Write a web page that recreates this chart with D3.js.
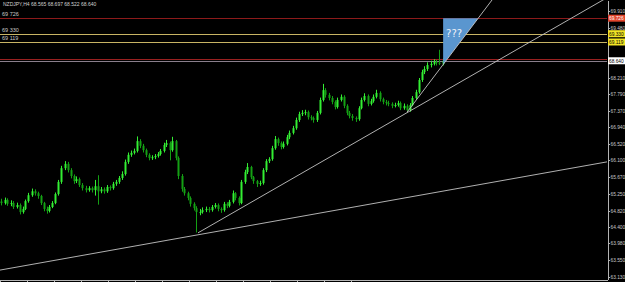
<!DOCTYPE html>
<html>
<head>
<meta charset="utf-8">
<script src="https://cdn.jsdelivr.net/npm/d3@7"></script>
<style>
body { margin: 0; background: #000; }
svg { display: block; }
.axis text { fill: #c8c8c8; font-family: "Liberation Sans", sans-serif; font-size: 4.8px; }
.axis path, .axis line { stroke: #b4b4b4; shape-rendering: crispEdges; }
</style>
</head>
<body>
<script>
const w = 625;
const h = 282;
const plotW = 607;
const plotH = 279;

const title = "NZDJPY,H4  68.565 68.697 68.522 68.640";

// H4 candles (open = previous close)
const firstOpen = 65.05;
const closes = [
	65.01, 65.09, 64.99, 65.01, 64.91, 64.96, 64.78, 64.86, 65.06, 65.21,
	65.31, 65.26, 65.19, 65.01, 64.86, 64.81, 64.91, 65.01, 65.24, 65.55,
	65.90, 66.01, 65.85, 65.70, 65.57, 65.62, 65.47, 65.39, 65.34, 65.39,
	65.34, 65.44, 65.31, 65.36, 65.31, 65.42, 65.39, 65.50, 65.55, 65.65,
	65.75, 66.06, 66.24, 66.29, 66.34, 66.59, 66.47, 66.36, 66.24, 66.16,
	66.18, 66.21, 66.26, 66.34, 66.49, 66.54, 66.36, 66.59, 66.16, 65.70,
	65.37, 65.26, 65.14, 64.99, 64.88, 64.78, 64.78, 64.83, 64.86, 64.83,
	64.91, 64.96, 64.86, 64.83, 64.99, 64.94, 65.04, 65.26, 65.14, 65.01,
	65.55, 65.80, 65.93, 65.67, 65.57, 65.50, 65.52, 65.85, 66.08, 66.13,
	66.41, 66.64, 66.54, 66.44, 66.52, 66.69, 66.80, 66.92, 67.13, 67.28,
	67.31, 67.33, 67.20, 67.18, 67.13, 67.31, 67.64, 67.89, 67.77, 67.69,
	67.59, 67.46, 67.64, 67.72, 67.49, 67.31, 67.23, 67.18, 67.15, 67.43,
	67.64, 67.74, 67.54, 67.61, 67.72, 67.82, 67.66, 67.59, 67.56, 67.54,
	67.49, 67.51, 67.56, 67.43, 67.49, 67.38, 67.51, 67.69, 67.84, 68.15,
	68.35, 68.43, 68.53, 68.56, 68.61, 68.59, 68.565, 68.640
];
const highs = [
	65.12, 65.15, 65.13, 65.08, 65.06, 65.02, 65.00, 64.92, 65.10, 65.27,
	65.38, 65.36, 65.30, 65.22, 65.04, 64.92, 64.96, 65.06, 65.28, 65.60,
	65.96, 66.08, 66.06, 65.90, 65.74, 65.69, 65.66, 65.52, 65.45, 65.44,
	65.43, 65.60, 65.72, 65.42, 65.41, 65.47, 65.46, 65.55, 65.60, 65.70,
	65.82, 66.12, 66.30, 66.35, 66.40, 66.71, 66.64, 66.52, 66.40, 66.28,
	66.23, 66.26, 66.31, 66.39, 66.55, 66.62, 66.58, 66.70, 66.62, 66.20,
	65.75, 65.42, 65.30, 65.18, 65.03, 64.93, 64.86, 64.90, 64.92, 64.91,
	64.96, 65.01, 65.00, 64.90, 65.04, 65.03, 65.09, 65.33, 65.29, 65.18,
	65.60, 65.86, 66.03, 65.96, 65.70, 65.60, 65.58, 65.90, 66.13, 66.18,
	66.47, 66.72, 66.68, 66.58, 66.58, 66.75, 66.86, 66.98, 67.19, 67.34,
	67.38, 67.39, 67.37, 67.25, 67.22, 67.36, 67.70, 68.05, 67.94, 67.82,
	67.74, 67.63, 67.70, 67.78, 67.76, 67.53, 67.36, 67.28, 67.22, 67.48,
	67.70, 67.81, 67.78, 67.67, 67.78, 67.90, 67.86, 67.70, 67.64, 67.62,
	67.58, 67.57, 67.62, 67.60, 67.55, 67.53, 67.56, 67.74, 67.90, 68.20,
	68.41, 68.50, 68.60, 68.64, 68.68, 68.66, 68.92, 68.697
];
const lows = [
	64.95, 64.97, 64.94, 64.93, 64.86, 64.87, 64.72, 64.74, 64.83, 65.02,
	65.17, 65.20, 65.12, 64.96, 64.80, 64.74, 64.77, 64.88, 64.98, 65.20,
	65.50, 65.85, 65.79, 65.64, 65.50, 65.52, 65.42, 65.33, 65.28, 65.30,
	65.28, 65.20, 64.97, 65.26, 65.25, 65.27, 65.33, 65.35, 65.45, 65.50,
	65.60, 65.71, 66.01, 66.19, 66.25, 66.30, 66.41, 66.30, 66.18, 66.10,
	66.11, 66.13, 66.17, 66.22, 66.30, 66.44, 66.10, 66.32, 66.10, 65.62,
	65.30, 65.20, 65.08, 64.92, 64.82, 64.26, 64.70, 64.74, 64.78, 64.77,
	64.79, 64.87, 64.80, 64.76, 64.79, 64.88, 64.90, 65.00, 65.08, 64.95,
	64.98, 65.50, 65.75, 65.62, 65.50, 65.42, 65.45, 65.48, 65.80, 66.03,
	66.09, 66.37, 66.47, 66.38, 66.40, 66.48, 66.64, 66.76, 66.88, 67.08,
	67.23, 67.25, 67.14, 67.12, 67.06, 67.08, 67.27, 67.60, 67.70, 67.63,
	67.53, 67.40, 67.42, 67.60, 67.43, 67.25, 67.17, 67.11, 67.08, 67.11,
	67.40, 67.60, 67.48, 67.50, 67.57, 67.68, 67.60, 67.53, 67.50, 67.48,
	67.43, 67.45, 67.47, 67.38, 67.39, 67.34, 67.34, 67.48, 67.65, 67.80,
	68.10, 68.30, 68.38, 68.47, 68.52, 68.52, 68.53, 68.522
];

// price scale labels and time tick positions (candle index)
const priceTicks = [69.910, 69.480, 68.210, 67.790, 67.370, 66.940, 66.520, 66.100,
	65.670, 65.250, 64.820, 64.400, 63.980, 63.550, 63.130];
const timeTicks = [0, 9, 18, 27, 36, 45, 54, 63, 72, 81, 90, 99, 108, 117];

// horizontal levels
const redLevel = 69.726;
const yellowLevels = [69.330, 69.119];
const levelNames = ["69 726", "69 330", "69 119"];
const askPrice = 68.685;
const bidPrice = 68.640;

// trend lines: [candle index, price] pairs
const trend1 = [[0, 63.30], [202.3, 66.06]];
const trend2 = [[66, 64.25], [136, 67.33]];
const trend3 = [[135.7, 67.33], [164, 70.19]];

var svg = d3.select("body").append("svg")
	.attr("width", w)
	.attr("height", h)
	.style("background", "#000");

var x = d3.scaleLinear().domain([0, plotW / 3]).range([0, plotW]);
var y = d3.scaleLinear().domain([70.19, 63.0727]).range([0, plotH]);

svg.append("clipPath").attr("id", "plot")
	.append("rect").attr("width", plotW).attr("height", plotH);

var plot = svg.append("g").attr("clip-path", "url(#plot)");

// price value at candle index t on a trend line
function along(line, t) {
	var a = line[0], b = line[1];
	return a[1] + (b[1] - a[1]) * (t - a[0]) / (b[0] - a[0]);
}

// horizontal level lines
function hline(p, color) {
	plot.append("line")
		.attr("x1", 0).attr("x2", plotW)
		.attr("y1", Math.round(y(p)) + 0.5).attr("y2", Math.round(y(p)) + 0.5)
		.attr("stroke", color).attr("stroke-width", 1);
}
hline(redLevel, "#8c1a1a");
yellowLevels.forEach(p => hline(p, "#c8b464"));
hline(askPrice, "#9a2020");
hline(bidPrice, "#8a7f8c");

// level names at the left
[redLevel].concat(yellowLevels).forEach((p, i) => {
	svg.append("text")
		.attr("x", 2).attr("y", y(p) - 2)
		.attr("fill", "#c8c8c8")
		.style("font-family", "Liberation Sans, sans-serif")
		.style("font-size", "5.5px")
		.text(levelNames[i]);
});

// candles
var candles = plot.selectAll(".candle")
	.data(closes)
	.enter().append("g")
	.attr("class", "candle");

candles.each(function (c, i) {
	var o = i ? closes[i - 1] : firstOpen;
	var cx = Math.round(x(i + 0.5));
	var col = c >= o ? "#33ee33" : "#14a014";
	var g = d3.select(this);
	g.append("line")
		.attr("x1", cx + 0.5).attr("x2", cx + 0.5)
		.attr("y1", y(highs[i])).attr("y2", y(lows[i]))
		.attr("stroke", col).attr("stroke-width", 1);
	var top = y(Math.max(o, c)), bot = y(Math.min(o, c));
	g.append("rect")
		.attr("x", cx - 0.5).attr("width", 2)
		.attr("y", top).attr("height", Math.max(1, bot - top))
		.attr("fill", col);
});

// blue triangle between the steep line and the red level
var tLeft = 147.7;
var tRight = trend3[0][0] + (redLevel - trend3[0][1]) * (trend3[1][0] - trend3[0][0]) / (trend3[1][1] - trend3[0][1]);
plot.append("path")
	.attr("d", d3.line()([
		[x(tLeft), y(along(trend3, tLeft))],
		[x(tLeft), y(redLevel)],
		[x(tRight), y(redLevel)]
	]) + "Z")
	.attr("fill", "#5a96cf");

plot.append("text")
	.attr("x", x(tLeft) + 3).attr("y", y(redLevel) + 19)
	.attr("fill", "#eef2f8")
	.style("font-family", "DejaVu Sans, sans-serif")
	.style("font-size", "10px")
	.text("???");

// trend lines
[[trend1, 0, 220], [trend2, 66, 220], [trend3, 135.7, 180]].forEach(d => {
	plot.append("line")
		.attr("x1", x(d[1])).attr("y1", y(along(d[0], d[1])))
		.attr("x2", x(d[2])).attr("y2", y(along(d[0], d[2])))
		.attr("stroke", "#c4c4c4").attr("stroke-width", 0.9);
});

// axes
var yAxis = d3.axisRight(y)
	.tickValues(priceTicks)
	.tickFormat(d3.format(".3f"))
	.tickSizeInner(2)
	.tickSizeOuter(0)
	.tickPadding(1);
svg.append("g")
	.attr("class", "axis")
	.attr("transform", "translate(" + (plotW + 0.5) + ",0)")
	.call(yAxis);

var xAxis = d3.axisBottom(x)
	.tickValues(timeTicks)
	.tickFormat("")
	.tickSizeInner(3)
	.tickSizeOuter(0);
svg.append("g")
	.attr("class", "axis")
	.attr("transform", "translate(0," + (plotH + 0.5) + ")")
	.call(xAxis);

// price tags on the axis
function tag(p, bg, fg) {
	var yy = y(p);
	svg.append("rect")
		.attr("x", plotW + 1).attr("y", yy - 3.5)
		.attr("width", 18).attr("height", 7)
		.attr("fill", bg);
	svg.append("text")
		.attr("x", plotW + 2).attr("y", yy + 1.8)
		.attr("fill", fg)
		.style("font-family", "Liberation Sans, sans-serif")
		.style("font-size", "4.8px")
		.text(d3.format(".3f")(p));
}
tag(redLevel, "#e0442c", "#ffffff");
yellowLevels.forEach(p => tag(p, "#f2e426", "#000000"));
tag(bidPrice, "#ffffff", "#000000");

// title
svg.append("text")
	.attr("x", 3).attr("y", 6)
	.attr("fill", "#d0d0d0")
	.style("font-family", "Liberation Sans, sans-serif")
	.style("font-size", "5px")
	.text(title);
</script>
</body>
</html>
